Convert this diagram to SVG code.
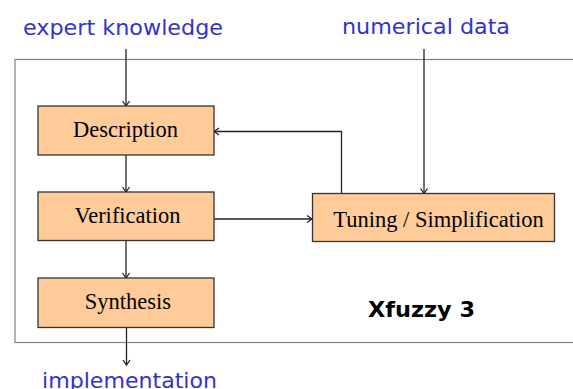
<svg xmlns="http://www.w3.org/2000/svg" width="573" height="389" viewBox="0 0 573 389">
<style>
.box{fill:#ffcc99;stroke:#333333;stroke-width:1.3}
.lbl{font-family:"Liberation Serif","Times New Roman",serif;font-size:22.5px;fill:#000;text-anchor:middle}
.io{font-family:"DejaVu Sans",Verdana,sans-serif;font-size:21px;fill:#3333cc}
.con{fill:none;stroke:#222222;stroke-width:1.3;marker-end:url(#ah)}
</style>
<defs>
<marker id="ah" viewBox="0 0 10 10" refX="9" refY="5" markerWidth="10" markerHeight="10" markerUnits="userSpaceOnUse" orient="auto">
<polyline points="4,1.5 9,5 4,8.5" fill="none" stroke="#222222" stroke-width="1.3"/>
</marker>
</defs>
<rect id="frame" x="15" y="59.5" width="580" height="283" fill="none" stroke="#808080" stroke-width="1.2"/>
<text class="io" x="23" y="35" textLength="200" lengthAdjust="spacingAndGlyphs">expert knowledge</text>
<text class="io" x="342" y="34" textLength="168" lengthAdjust="spacingAndGlyphs">numerical data</text>
<text class="io" x="42" y="388" textLength="175" lengthAdjust="spacingAndGlyphs">implementation</text>
<text x="368" y="317" font-family="'DejaVu Sans',Verdana,sans-serif" font-weight="bold" font-size="21" fill="#000" textLength="107" lengthAdjust="spacingAndGlyphs">Xfuzzy 3</text>
<g id="connectors">
<line class="con" x1="126" y1="49" x2="126" y2="106"/>
<line class="con" x1="424" y1="49" x2="424" y2="193.5"/>
<line class="con" x1="126" y1="155" x2="126" y2="192"/>
<line class="con" x1="126" y1="240.5" x2="126" y2="278"/>
<line class="con" x1="126.5" y1="327.5" x2="126.5" y2="365"/>
<line class="con" x1="214" y1="219" x2="312" y2="219"/>
<polyline class="con" points="341.5,193.5 341.5,131.5 214,131.5"/>
</g>
<g id="description">
<rect class="box" x="38" y="106" width="176" height="49"/>
<text class="lbl" x="125.5" y="137">Description</text>
</g>
<g id="verification">
<rect class="box" x="38" y="192" width="176" height="48.5"/>
<text class="lbl" x="127.5" y="223">Verification</text>
</g>
<g id="synthesis">
<rect class="box" x="38" y="278" width="176" height="49.5"/>
<text class="lbl" x="128" y="308.5">Synthesis</text>
</g>
<g id="tuning">
<rect class="box" x="312.5" y="193.5" width="242" height="48"/>
<text class="lbl" x="438.5" y="227">Tuning / Simplification</text>
</g>
</svg>
